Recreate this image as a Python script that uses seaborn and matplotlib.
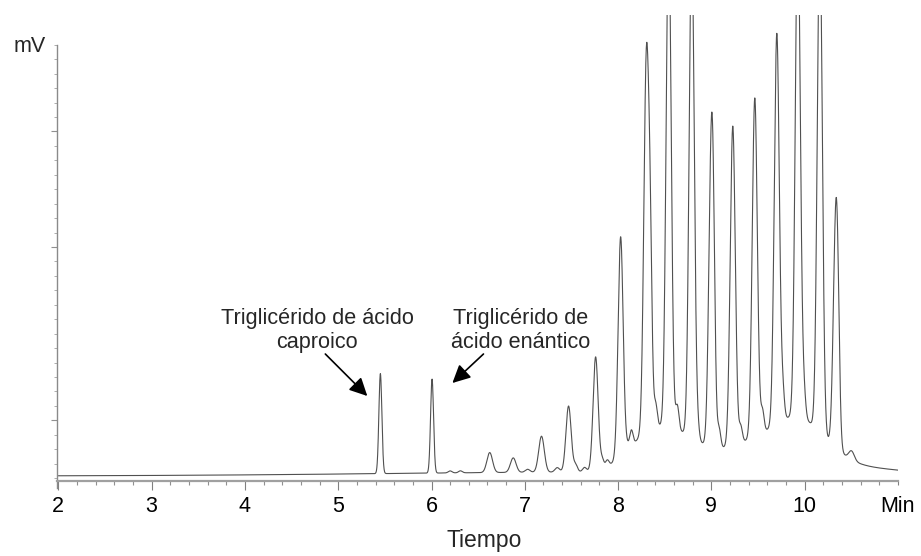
import numpy as np
import pandas as pd
import matplotlib
matplotlib.use("Agg")
import matplotlib.pyplot as plt
import seaborn as sns

# ---------------- data ----------------
# retention time (min), height (signal units), width (sigma, min)
labeled_times = [5.452, 6.006]
labeled_heights = [100, 94]
labeled_widths = [0.016, 0.016]

main_times = [6.624, 6.876, 7.179, 7.469, 7.759, 8.027, 8.303, 8.542, 8.789,
              9.000, 9.229, 9.465, 9.701, 9.926, 10.162, 10.334]
main_heights = [20, 14.5, 36, 66, 113, 220, 370, 500, 500,
                302, 319, 339, 390, 500, 500, 228]
main_widths = [0.03, 0.03, 0.03, 0.028, 0.027, 0.027, 0.027, 0.027, 0.027,
               0.027, 0.027, 0.027, 0.027, 0.027, 0.027, 0.027]

minor_times = [6.20, 6.31, 7.03, 7.348, 7.545, 7.64, 7.83, 7.884, 8.099, 8.142,
               8.345, 8.402, 8.635, 8.855, 9.022, 9.082, 9.314, 9.547, 9.765,
               9.99, 10.355, 10.502]
minor_heights = [2, 2, 3, 4.5, 7, 4, 8, 6, 4, 16,
                 140, 23, 24, 10, 60, 19, 16, 22, 25,
                 25, 40, 9]
minor_widths = [0.02, 0.02, 0.025, 0.025, 0.02, 0.02, 0.018, 0.018, 0.018, 0.018,
                0.02, 0.018, 0.018, 0.018, 0.018, 0.018, 0.018, 0.018, 0.018,
                0.02, 0.018, 0.03]

hump_times = [8.0, 8.42, 8.80, 9.25, 9.90, 10.70]
hump_heights = [4, 44, 14, 20, 55, 5]
hump_widths = [2.5, 0.27, 0.18, 0.25, 0.32, 0.40]

x_ticks = [2, 3, 4, 5, 6, 7, 8, 9, 10, 11]
x_tick_labels = ["2", "3", "4", "5", "6", "7", "8", "9", "10", "Min"]

label_left = "Triglicérido de ácido\ncaproico"
label_right = "Triglicérido de\nácido enántico"

# ---------------- build trace ----------------
t = np.arange(2.0, 11.0005, 0.001)
signal = np.zeros_like(t)
for times, heights, widths in [(labeled_times, labeled_heights, labeled_widths),
                               (main_times, main_heights, main_widths),
                               (minor_times, minor_heights, minor_widths),
                               (hump_times, hump_heights, hump_widths)]:
    for c, h, s in zip(times, heights, widths):
        signal += h * np.exp(-0.5 * ((t - c) / s) ** 2)

df = pd.DataFrame({"Tiempo": t, "mV": signal})

# ---------------- plot ----------------
sns.set_theme(style="white")
plt.rcParams["font.family"] = ["Liberation Sans", "DejaVu Sans"]

W, H = 921, 556
fig = plt.figure(figsize=(W / 100, H / 100), dpi=100)
ax_left, ax_right, ax_bottom, ax_top = 57, 898, 481, 15
ax = fig.add_axes([ax_left / W, (H - ax_bottom) / H,
                   (ax_right - ax_left) / W, (ax_bottom - ax_top) / H])

sns.lineplot(data=df, x="Tiempo", y="mV", ax=ax, color="#505050",
             linewidth=0.8, estimator=None, sort=False)

ax.set_xlim(2 - 1.3 / 93.2, 11)
ax.set_ylim(-5, 461)

for side in ["top", "right"]:
    ax.spines[side].set_visible(False)
ax.spines["left"].set_color("#8a8a8a")
ax.spines["left"].set_linewidth(1.0)
ax.spines["left"].set_bounds(-12, 431)
ax.spines["bottom"].set_color("#a0a0a0")
ax.spines["bottom"].set_linewidth(1.6)

ax.set_xticks(x_ticks)
ax.set_xticklabels(x_tick_labels, fontsize=15.5, color="black")
ax.set_xticks(np.arange(2, 11.001, 0.2), minor=True)
ax.tick_params(axis="x", which="major", direction="out", length=6.5, width=0.8,
               color="#808080", pad=4, bottom=True)
ax.tick_params(axis="x", which="minor", direction="out", length=3, width=0.8,
               color="#909090", bottom=True)
ax.xaxis.get_major_ticks()[-1].tick1line.set_markersize(3)

yt = 431.3 - 14.45 * np.arange(31)
ax.set_yticks(yt[[6, 14, 26]])
ax.set_yticklabels([])
ax.set_yticks(yt, minor=True)
ax.tick_params(axis="y", which="major", direction="out", length=4.5, width=0.8,
               color="#909090", left=True)
ax.tick_params(axis="y", which="minor", direction="out", length=2.2, width=0.6,
               color="#a0a0a0", left=True)
ax.set_xlabel("")
ax.set_ylabel("")

fig.text(484 / W, (H - 540) / H, "Tiempo", ha="center", va="center", fontsize=16.5)
fig.text(46 / W, (H - 46) / H, "mV", ha="right", va="center", fontsize=15.5)

arrow = dict(arrowstyle="-|>,head_length=0.6,head_width=0.3", color="black",
             lw=1.2, shrinkA=0, shrinkB=0, mutation_scale=18)
ax.annotate("", xy=(5.312, 80), xytext=(4.862, 122), arrowprops=arrow,
            annotation_clip=False)
ax.annotate("", xy=(6.224, 93), xytext=(6.557, 122), arrowprops=arrow,
            annotation_clip=False)
ax.text(4.774, 128, label_left, ha="center", va="baseline", fontsize=15.6,
        linespacing=1.2, multialignment="center")
ax.text(6.954, 128, label_right, ha="center", va="baseline", fontsize=15.6,
        linespacing=1.2, multialignment="center")

fig.savefig("out.png", dpi=100, facecolor="white")
